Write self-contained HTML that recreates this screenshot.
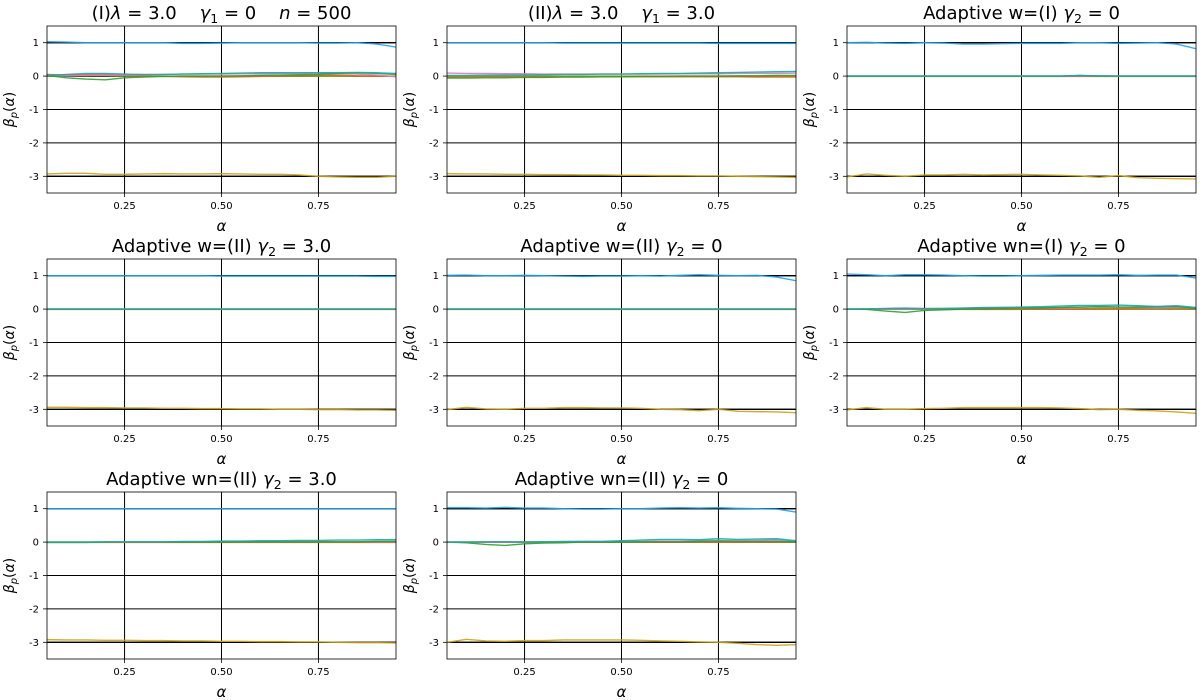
<!DOCTYPE html>
<html><head><meta charset="utf-8"><style>
html,body{margin:0;padding:0;background:#fff;}
svg{display:block;font-family:"DejaVu Sans","Liberation Sans",sans-serif;}
.pt{white-space:pre;}
</style></head><body>
<svg id="fig" width="1200" height="700" viewBox="0 0 1200 700"></svg>
<script>
const alphas=[0.05,0.1,0.15,0.2,0.25,0.3,0.35,0.4,0.45,0.5,0.55,0.6,0.65,0.7,0.75,0.8,0.85,0.9,0.95];
const xTicks=[0.25,0.5,0.75];
const xTickLabels=["0.25","0.50","0.75"];
const yTicks=[1,0,-1,-2,-3];
const yTickLabels=["1","0","-1","-2","-3"];
const truthLevels=[1,0,-3];
const seriesColors=["#1fa2ee","#c9a21a","#2ca02c","#17a8a8","#e377c2","#d2691e","#b5b02a"];
// title segments: [text, style] n=normal, i=italic, s=subscript
const panelTitles=[
 [["(I)","n"],["λ","i"],[" = 3.0    ","n"],["γ","i"],["1","s"],[" = 0    ","n"],["n","i"],[" = 500","n"]],
 [["(II)","n"],["λ","i"],[" = 3.0    ","n"],["γ","i"],["1","s"],[" = 3.0","n"]],
 [["Adaptive w=(I) ","n"],["γ","i"],["2","s"],[" = 0","n"]],
 [["Adaptive w=(II) ","n"],["γ","i"],["2","s"],[" = 3.0","n"]],
 [["Adaptive w=(II) ","n"],["γ","i"],["2","s"],[" = 0","n"]],
 [["Adaptive wn=(I) ","n"],["γ","i"],["2","s"],[" = 0","n"]],
 [["Adaptive wn=(II) ","n"],["γ","i"],["2","s"],[" = 3.0","n"]],
 [["Adaptive wn=(II) ","n"],["γ","i"],["2","s"],[" = 0","n"]]
];
// panel 1
const p1Blue=[1.03,1.02,1.0,1.0,1.0,1.0,1.0,0.98,0.98,0.99,1.0,1.0,1.0,1.0,0.99,0.99,1.0,0.96,0.87];
const p1Gold=[-2.93,-2.91,-2.91,-2.94,-2.94,-2.93,-2.92,-2.93,-2.93,-2.92,-2.93,-2.94,-2.94,-2.96,-3.0,-3.02,-3.03,-3.03,-3.0];
const p1Green=[0.02,-0.05,-0.09,-0.11,-0.05,-0.03,-0.01,0,0,0,0.01,0.02,0.03,0.04,0.05,0.08,0.1,0.08,0.05];
const p1Teal=[0.02,0.05,0.08,0.08,0.06,0.05,0.05,0.06,0.07,0.08,0.09,0.1,0.1,0.1,0.1,0.1,0.11,0.1,0.08];
const p1Pink=[0,0.01,0.02,0.03,0.03,0.04,0.05,0.06,0.06,0.06,0.07,0.07,0.08,0.08,0.09,0.08,0.06,0.03,-0.02];
const p1Orange=[0.05,0.03,0.04,0.05,0.02,0,-0.01,-0.02,-0.03,-0.03,-0.02,-0.01,0,0.01,0.02,0.03,0.01,0,-0.01];
const p1Olive=[0.03,0.03,0.02,0.02,0.01,0.01,0,0,0,0,0,0,0,0,0,0,0,0,0];
// panel 2
const p2Blue=[1.0,1.0,1.0,1.0,1.0,1.0,0.99,0.99,0.99,0.99,0.99,0.99,0.99,0.99,0.98,0.98,0.98,0.98,0.98];
const p2Gold=[-2.92,-2.93,-2.93,-2.94,-2.94,-2.95,-2.95,-2.96,-2.96,-2.97,-2.97,-2.98,-2.98,-2.99,-2.99,-3.0,-3.01,-3.02,-3.03];
const p2Green=[-0.06,-0.06,-0.05,-0.05,-0.04,-0.04,-0.03,-0.03,-0.02,-0.02,-0.01,-0.01,0,0,0,0.01,0.01,0.02,0.02];
const p2Teal=[0.02,0.02,0.03,0.03,0.03,0.04,0.05,0.05,0.06,0.06,0.07,0.08,0.08,0.09,0.1,0.11,0.12,0.13,0.14];
const p2Pink=[0.09,0.08,0.08,0.07,0.07,0.06,0.06,0.06,0.06,0.06,0.06,0.06,0.07,0.07,0.07,0.08,0.08,0.08,0.09];
const p2Orange=[-0.03,-0.03,-0.02,-0.02,-0.02,-0.02,-0.02,-0.02,-0.02,-0.02,-0.02,-0.02,-0.02,-0.02,-0.02,-0.02,-0.03,-0.03,-0.03];
const p2Olive=[0.0,0.0,0.0,0.0,0.0,0.0,0.0,0.0,0.0,0.0,0.0,0.0,0.0,0.0,0.0,0.0,0.0,0.0,0.0];
// panel 3
const p3Blue=[1.0,1.01,0.99,0.98,1.0,0.99,0.96,0.96,0.97,0.98,0.98,0.98,1.0,1.0,0.98,0.99,1.0,0.96,0.82];
const p3Gold=[-3.02,-2.93,-2.97,-3.0,-2.96,-2.96,-2.94,-2.96,-2.95,-2.94,-2.96,-2.97,-2.99,-3.03,-2.98,-3.04,-3.06,-3.07,-3.08];
const p3Green=[0,0,0,0,0,0,0,0,0,0,0,0,0.02,0,0,0,0,0,0];
const p3Teal=[0,0,0,0,0,0,0,0,0,0,0,0,0.02,0.01,0,0,0,0,0];
const p3Pink=[0,0,0,0,0,0,0,0,0,0,0,0,0,0,0,0,0,0,0];
const p3Orange=[-0.01,-0.01,-0.01,-0.01,-0.01,-0.01,-0.01,-0.01,-0.01,-0.01,-0.01,-0.01,-0.01,-0.01,-0.01,-0.01,-0.01,-0.01,-0.01];
const p3Olive=[0,0,0,0,0,0,0,0,0,0,0,0,0,0,0,0,0,0,0];
// panel 4
const p4Blue=[1.0,1.0,1.0,1.0,1.0,1.0,1.0,1.0,1.0,0.99,0.99,0.99,0.99,0.99,0.99,0.99,0.99,0.98,0.98];
const p4Gold=[-2.94,-2.94,-2.95,-2.95,-2.96,-2.96,-2.97,-2.97,-2.98,-2.98,-2.99,-2.99,-3.0,-3.0,-3.01,-3.01,-3.02,-3.02,-3.03];
const p4Green=[0,0,0,0,0,0,0,0,0,0,0,0,0,0,0,0,0,0,0];
const p4Teal=[0,0,0,0,0,0,0,0,0,0,0,0,0,0,0,0,0,0,0];
const p4Pink=[0,0,0,0,0,0,0,0,0,0,0,0,0,0,0,0,0,0,0];
const p4Orange=[-0.01,-0.01,-0.01,-0.01,-0.01,-0.01,-0.01,-0.01,-0.01,-0.01,-0.01,-0.01,-0.01,-0.01,-0.01,-0.01,-0.01,-0.01,-0.01];
const p4Olive=[0,0,0,0,0,0,0,0,0,0,0,0,0,0,0,0,0,0,0];
// panel 5
const p5Blue=[1.01,1.02,1.0,1.0,1.01,1.0,0.99,0.98,0.99,0.99,1.0,0.99,1.01,1.03,1.01,1.0,1.01,0.96,0.85];
const p5Gold=[-3.01,-2.94,-2.99,-3.0,-2.97,-2.97,-2.95,-2.95,-2.96,-2.96,-2.97,-3.0,-3.01,-3.04,-3.0,-3.06,-3.07,-3.08,-3.1];
const p5Green=[0,0,0,0,0,0,0,0,0,0,0,0,0,0,0,0,0,0,0];
const p5Teal=[0,0,0,0,0,0,0,0,0,0,0,0,0,0,0,0,0,0,0];
const p5Pink=[0,0,0,0,0,0,0,0,0,0,0,0,0,0,0,0,0,0,0];
const p5Orange=[-0.01,-0.01,-0.01,-0.01,-0.01,-0.01,-0.01,-0.01,-0.01,-0.01,-0.01,-0.01,-0.01,-0.01,-0.01,-0.01,-0.01,-0.01,-0.01];
const p5Olive=[0,0,0,0,0,0,0,0,0,0,0,0,0,0,0,0,0,0,0];
// panel 6
const p6Blue=[1.05,1.03,1.0,1.03,1.03,1.02,1.0,0.99,0.99,1.0,1.01,1.02,1.02,1.02,1.03,1.01,1.02,1.02,0.93];
const p6Gold=[-3.02,-2.95,-3.0,-3.0,-2.98,-2.97,-2.95,-2.95,-2.95,-2.95,-2.95,-2.96,-2.98,-3.01,-3.0,-3.03,-3.05,-3.08,-3.12];
const p6Green=[0,-0.01,-0.06,-0.1,-0.04,-0.02,0,0.01,0.02,0.03,0.04,0.05,0.06,0.07,0.06,0.06,0.07,0.08,0.02];
const p6Teal=[0,0.01,0.02,0.03,0.02,0.02,0.03,0.04,0.05,0.06,0.07,0.09,0.11,0.11,0.12,0.1,0.08,0.1,0.05];
const p6Pink=[0,0,0,0.01,0.01,0.02,0.03,0.05,0.05,0.05,0.04,0.04,0.05,0.08,0.06,0.05,0.04,0.06,0.03];
const p6Orange=[0,0,0.01,0.01,0.0,-0.01,-0.01,-0.01,-0.01,-0.01,0,0,0.01,0.02,0.02,0.02,0.03,0.03,0.01];
const p6Olive=[0,0,0,0,0,0,0,0,0,0,0,0,0,0,0,0,0,0,0];
// panel 7
const p7Blue=[1.0,1.0,1.0,1.0,1.0,1.0,1.0,1.0,1.0,1.0,1.0,1.0,1.0,1.0,1.0,1.0,1.0,1.0,1.0];
const p7Gold=[-2.92,-2.93,-2.93,-2.94,-2.94,-2.95,-2.95,-2.96,-2.96,-2.97,-2.97,-2.98,-2.98,-2.99,-2.99,-3.0,-3.01,-3.01,-3.02];
const p7Green=[-0.01,-0.01,-0.01,0,0,0,0,0,0,0,0.01,0.01,0.01,0.01,0.01,0.01,0.01,0.02,0.02];
const p7Teal=[0,0,0,0.01,0.01,0.01,0.01,0.02,0.02,0.03,0.03,0.04,0.04,0.05,0.05,0.06,0.06,0.07,0.07];
const p7Pink=[0,0,0,0,0,0,0,0.01,0.01,0.01,0.01,0.01,0.01,0.01,0.01,0.01,0.01,0.01,0.01];
const p7Orange=[-0.01,-0.01,-0.01,-0.01,-0.01,-0.01,-0.01,-0.01,-0.01,-0.01,-0.01,-0.01,-0.01,-0.01,-0.01,-0.01,-0.01,-0.01,-0.01];
const p7Olive=[0,0,0,0,0,0,0,0,0,0,0,0,0,0,0,0,0,0,0];
// panel 8
const p8Blue=[1.03,1.03,1.02,1.04,1.02,1.02,1.0,0.99,0.99,1.0,1.0,1.02,1.03,1.02,1.03,1.01,1.0,0.99,0.9];
const p8Gold=[-3.0,-2.91,-2.96,-2.97,-2.95,-2.95,-2.93,-2.93,-2.93,-2.93,-2.94,-2.96,-2.97,-2.99,-3.0,-3.03,-3.07,-3.09,-3.07];
const p8Green=[0,-0.02,-0.07,-0.1,-0.05,-0.03,-0.02,0,0,0,0.01,0.01,0.01,0.02,0.03,0.02,0.02,0.02,0.01];
const p8Teal=[0,0,0.01,0.01,0.01,0.01,0.02,0.02,0.02,0.04,0.06,0.08,0.08,0.07,0.1,0.08,0.09,0.1,0.04];
const p8Pink=[0,0,0,0,0,0.01,0.01,0.02,0.02,0.02,0.02,0.03,0.03,0.05,0.04,0.04,0.05,0.06,0.02];
const p8Orange=[0,0,0,0,0,0,0,0,0,0,0,0,0,0,0,0,0,0,0];
const p8Olive=[0,0,0,0,0,0,0,0,0,0,0,0,0,0,0,0,0,0,0];

const panelSeries=[
 [p1Blue,p1Gold,p1Green,p1Teal,p1Pink,p1Orange,p1Olive],
 [p2Blue,p2Gold,p2Green,p2Teal,p2Pink,p2Orange,p2Olive],
 [p3Blue,p3Gold,p3Green,p3Teal,p3Pink,p3Orange,p3Olive],
 [p4Blue,p4Gold,p4Green,p4Teal,p4Pink,p4Orange,p4Olive],
 [p5Blue,p5Gold,p5Green,p5Teal,p5Pink,p5Orange,p5Olive],
 [p6Blue,p6Gold,p6Green,p6Teal,p6Pink,p6Orange,p6Olive],
 [p7Blue,p7Gold,p7Green,p7Teal,p7Pink,p7Orange,p7Olive],
 [p8Blue,p8Gold,p8Green,p8Teal,p8Pink,p8Orange,p8Olive]
];

const NS="http://www.w3.org/2000/svg";
const svg=document.getElementById('fig');
function mk(tag,attrs,parent){const e=document.createElementNS(NS,tag);for(const k in attrs)e.setAttribute(k,attrs[k]);parent.appendChild(e);return e;}
const colX=[47,447,847], rowY=[26,259,492], W=349, H=167;
const xMin=0.05,xMax=0.95,yMin=-3.5,yMax=1.5;

panelTitles.forEach((t,i)=>{
 const x0=colX[i%3], y0=rowY[Math.floor(i/3)];
 const sx=v=>x0+(v-xMin)/(xMax-xMin)*W;
 const sy=v=>y0+(yMax-v)/(yMax-yMin)*H;
 const g=mk('g',{},svg);
 
 
 const defs=mk('defs',{},g);
 const cp=mk('clipPath',{id:'clip'+i},defs);
 mk('rect',{x:x0,y:y0,width:W,height:H},cp);
 xTicks.forEach((v,k)=>{
  const l=mk('line',{x1:sx(v),x2:sx(v),y1:y0,y2:y0+H,stroke:'#000','stroke-width':1},g);
  
  
  mk('line',{x1:sx(v),x2:sx(v),y1:y0+H,y2:y0+H+4,stroke:'#000','stroke-width':0.8},g);
  const tx=mk('text',{x:sx(v),y:y0+H+16,'font-size':10,'text-anchor':'middle',fill:'#000'},g);
  tx.textContent=xTickLabels[k];
  
  
 });
 yTicks.forEach((v,k)=>{
  const l=mk('line',{x1:x0,x2:x0+W,y1:sy(v),y2:sy(v),stroke:'#000','stroke-width':1},g);
  
  
  mk('line',{x1:x0-4,x2:x0,y1:sy(v),y2:sy(v),stroke:'#000','stroke-width':0.8},g);
  const tx=mk('text',{x:x0-8,y:sy(v)+3.5,'font-size':10,'text-anchor':'end',fill:'#000'},g);
  tx.textContent=yTickLabels[k];
  
  
 });
 const cg=mk('g',{'clip-path':'url(#clip'+i+')'},g);
 truthLevels.forEach(v=>{
  const l=mk('line',{x1:x0,x2:x0+W,y1:sy(v),y2:sy(v),stroke:'#000','stroke-width':1.3},cg);
  
  
 });
 const order=[6,5,4,2,3,1,0];
 order.forEach(s=>{
  const vals=panelSeries[i][s];
  const d=vals.map((v,j)=>(j?'L':'M')+sx(alphas[j]).toFixed(2)+','+sy(v).toFixed(2)).join(' ');
  const p=mk('path',{d:d,fill:'none',stroke:seriesColors[s],'stroke-width':1.4,'stroke-opacity':0.9},cg);
  
  
 });
 const fr=mk('rect',{x:x0,y:y0,width:W,height:H,fill:'none',stroke:'#000','stroke-width':0.8},g);
 
 
 const tt=mk('text',{x:x0+W/2,y:y0-7,'font-size':18,'text-anchor':'middle',fill:'#000','class':'pt'},g);
 
 
 let lowered=false;
 t.forEach(seg=>{
  const a={};
  if(seg[1]==='i') a['font-style']='italic';
  if(seg[1]==='s'){a['font-size']=12.5;a.dy=4;lowered=true;}
  else if(lowered){a.dy=-4;lowered=false;}
  const sp=mk('tspan',a,tt);
  sp.textContent=seg[0];
 });
 const xl=mk('text',{x:x0+W/2,y:y0+H+38,'font-size':15,'text-anchor':'middle','font-style':'italic',fill:'#000'},g);
 xl.textContent='α';
 
 
 const yl=mk('text',{x:0,y:0,'font-size':14,'text-anchor':'middle',fill:'#000',transform:'translate('+(x0-33)+','+(y0+H/2)+') rotate(-90)'},g);
 
 
 const y1=mk('tspan',{'font-style':'italic'},yl);y1.textContent='β';
 const y2=mk('tspan',{'font-size':10,dy:3,'font-style':'italic'},yl);y2.textContent='p';
 const y3=mk('tspan',{dy:-3},yl);y3.textContent='(';
 const y4=mk('tspan',{'font-style':'italic'},yl);y4.textContent='α';
 const y5=mk('tspan',{},yl);y5.textContent=')';
});
</script>
</body></html>
